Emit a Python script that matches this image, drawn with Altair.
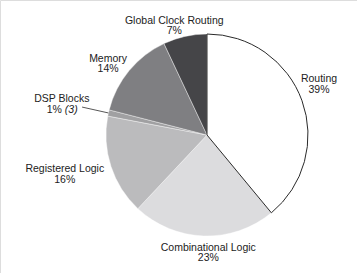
import altair as alt
import pandas as pd

categories = ["Routing", "Combinational Logic", "Registered Logic", "DSP Blocks", "Memory", "Global Clock Routing"]
values = [39, 23, 16, 1, 14, 7]
colors = ["#ffffff", "#dcdcde", "#bbbbbd", "#a0a0a2", "#7f7f82", "#454548"]

df = pd.DataFrame({"category": categories, "value": values, "order": list(range(len(categories)))})

CX, CY, R, LR = 207, 135, 101, 118
FONT = "Liberation Sans"
TXT = "#222222"

base = alt.Chart(df)

theta = alt.Theta("value:Q", stack=True)
order = alt.Order("order:Q")
color = alt.Color("category:N", scale=alt.Scale(domain=categories, range=colors), legend=None)

pie = base.mark_arc(outerRadius=R, stroke="#ffffff", strokeWidth=0.4).encode(
    theta=theta, order=order, color=color,
    x=alt.value(CX), y=alt.value(CY),
)

outline = base.mark_arc(outerRadius=R, fillOpacity=0, stroke="#2a2a2a", strokeWidth=1).encode(
    theta=theta, order=order,
    strokeOpacity=alt.condition(alt.datum.category == "Routing", alt.value(1), alt.value(0)),
    x=alt.value(CX), y=alt.value(CY),
)

lab = base.transform_joinaggregate(total="sum(value)").transform_window(
    cum="sum(value)", sort=[alt.SortField("order")], frame=[None, 0]
).transform_calculate(
    mid=f"(datum.cum - datum.value/2)/datum.total*2*PI",
).transform_calculate(
    lx=f"{CX} + {LR}*sin(datum.mid)",
    ly=f"{CY} - {LR}*cos(datum.mid)",
    r1x=f"{CX} + {R}*sin(datum.mid)",
    r1y=f"{CY} - {R}*cos(datum.mid)",
    r2x=f"{CX} + 128*sin(datum.mid)",
    r2y=f"{CY} - 128*cos(datum.mid)",
    label="datum.category + '\\n' + datum.value + '%'",
    pct="datum.value + '%'",
)

offsets = {
    "Routing": (1, -16),
    "Combinational Logic": (5, -5),
    "Registered Logic": (-30, -2),
    "Memory": (-8, -1),
    "Global Clock Routing": (-7, 1),
}

layers = [pie, outline]
for cat, (dx, dy) in offsets.items():
    layers.append(
        lab.transform_filter(alt.datum.category == cat).mark_text(
            dx=dx, dy=dy, font=FONT, fontSize=10.5, lineBreak="\n", lineHeight=10.5,
            color=TXT, align="center", baseline="middle",
        ).encode(x=alt.X("lx:Q", scale=None), y=alt.Y("ly:Q", scale=None), text="label:N")
    )

dsp = lab.transform_filter(alt.datum.category == "DSP Blocks")
layers.append(
    dsp.mark_rule(color="#444444", strokeWidth=0.9).encode(
        x=alt.X("r1x:Q", scale=None), y=alt.Y("r1y:Q", scale=None),
        x2="r2x:Q", y2="r2y:Q",
    )
)
layers.append(
    dsp.mark_text(dx=-30, dy=-10, font=FONT, fontSize=10.5, color=TXT, align="center", baseline="middle").encode(
        x=alt.X("lx:Q", scale=None), y=alt.Y("ly:Q", scale=None), text="category:N")
)
layers.append(
    dsp.mark_text(dx=-30, dy=1, font=FONT, fontSize=10.5, color=TXT, align="right", baseline="middle").encode(
        x=alt.X("lx:Q", scale=None), y=alt.Y("ly:Q", scale=None), text="pct:N")
)
layers.append(
    dsp.mark_text(dx=-27, dy=1, font=FONT, fontSize=10.5, fontStyle="italic", color=TXT, align="left", baseline="middle").encode(
        x=alt.X("lx:Q", scale=None), y=alt.Y("ly:Q", scale=None), text=alt.value("(3)"))
)

chart = alt.layer(*layers).properties(
    width=357, height=273, autosize="none", padding=0
).configure_view(stroke=None).configure(background="#ffffff")

chart.save("out.html", embed_options={"renderer": "svg", "actions": False})
